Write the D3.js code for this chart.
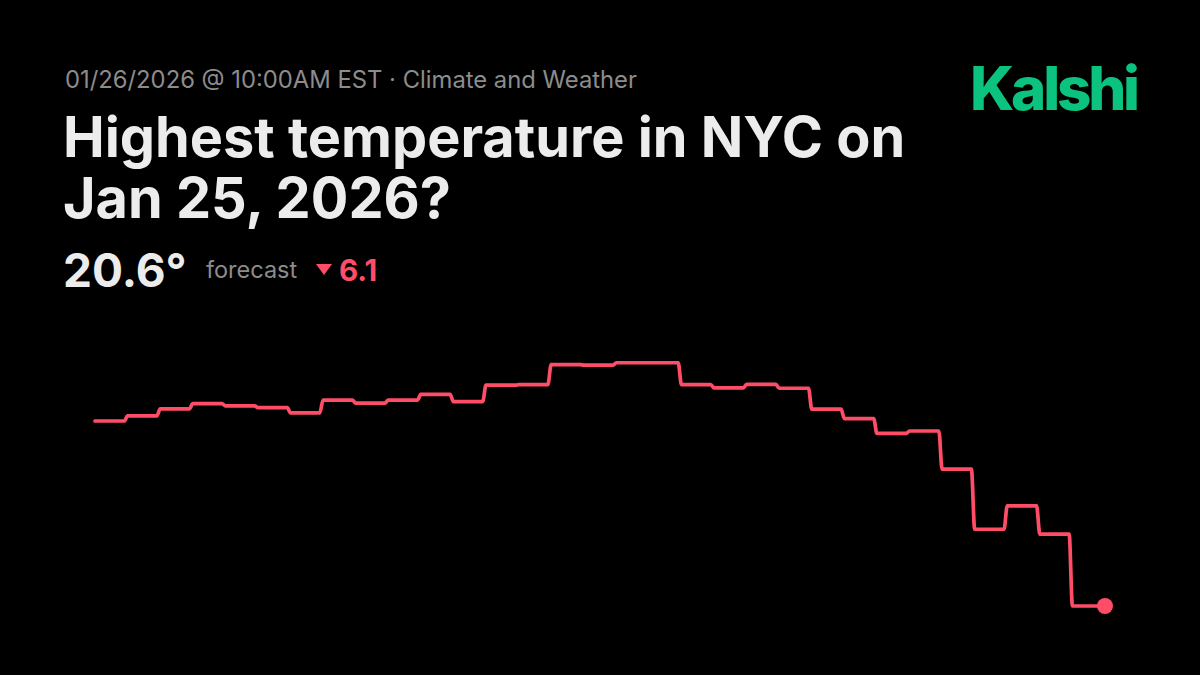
<!DOCTYPE html>
<html>
<head>
<meta charset="utf-8">
<script src="https://cdn.jsdelivr.net/npm/d3@7/dist/d3.min.js"></script>
<style>
  html, body { margin: 0; padding: 0; background: #000; }
  svg { display: block; }
</style>
</head>
<body>
<div id="chart"></div>
<script>
// forecast of the day's high, one value per update (deg F)
var forecast = [26.70, 26.87, 27.10, 27.27, 27.20, 27.14, 26.97, 27.39, 27.29, 27.39,
                27.58, 27.34, 27.88, 27.90, 28.56, 28.54, 28.62, 28.62, 27.90, 27.79,
                27.91, 27.78, 27.09, 26.78, 26.29, 26.37, 25.11, 23.13, 23.90, 22.97,
                20.60];
var currentValue = "20.6°";
var changeValue = "6.1";
var stamp = "01/26/2026 @ 10:00AM EST · Climate and Weather";
var titleLines = ["Highest temperature in NYC on", "Jan 25, 2026?"];

var W = 1200, H = 675;
var font = "Inter, 'Noto Sans', sans-serif";
var red = "#ff4d68";

var svg = d3.select("#chart").append("svg")
    .attr("width", W)
    .attr("height", H);

svg.append("rect").attr("width", W).attr("height", H).attr("fill", "#000");

// header
svg.append("text")
    .attr("x", 65).attr("y", 88)
    .attr("font-family", font).attr("font-size", 23.8)
    .attr("fill", "#8c8c8c")
    .text(stamp);

svg.append("text")
    .attr("x", 970).attr("y", 110)
    .attr("font-family", font).attr("font-size", 60).attr("font-weight", 800)
    .attr("letter-spacing", -3.2)
    .attr("fill", "#0bc37e")
    .text("Kalshi");

svg.selectAll(".title").data(titleLines).enter()
    .append("text")
    .attr("class", "title")
    .attr("x", 63)
    .attr("y", function(d, i) { return 157 + i * 61; })
    .attr("font-family", font).attr("font-size", 55.8).attr("font-weight", 700)
    .attr("fill", "#ececec")
    .text(function(d) { return d; });

svg.append("text")
    .attr("x", 63).attr("y", 287)
    .attr("font-family", font).attr("font-size", 46).attr("font-weight", 700)
    .attr("fill", "#ececec")
    .text(currentValue);

svg.append("text")
    .attr("x", 206).attr("y", 278)
    .attr("font-family", font).attr("font-size", 23.5)
    .attr("fill", "#8c8c8c")
    .text("forecast");

svg.append("path")
    .attr("d", "M316,264 L332,264 L324,275 Z")
    .attr("fill", red);

svg.append("text")
    .attr("x", 339).attr("y", 281)
    .attr("font-family", font).attr("font-size", 29.5).attr("font-weight", 700)
    .attr("fill", red)
    .text(changeValue);

// chart
var x = d3.scaleLinear().domain([0, forecast.length]).range([95, 1105]);
var y = d3.scaleLinear().domain([20.6, 26.7]).range([606, 421]);

// each value holds until the next update, with a short eased transition
var pts = [];
forecast.forEach(function(v, i) {
  pts.push([i, v]);
  pts.push([i + 0.9, v]);
});
pts.push([forecast.length, forecast[forecast.length - 1]]);

var line = d3.line()
    .x(function(d) { return x(d[0]); })
    .y(function(d) { return y(d[1]); })
    .curve(d3.curveMonotoneX);

svg.append("path")
    .datum(pts)
    .attr("d", line)
    .attr("fill", "none")
    .attr("stroke", red)
    .attr("stroke-width", 3.7)
    .attr("stroke-linejoin", "round")
    .attr("stroke-linecap", "round");

svg.append("circle")
    .attr("cx", x(forecast.length))
    .attr("cy", y(forecast[forecast.length - 1]))
    .attr("r", 8)
    .attr("fill", red);
</script>
</body>
</html>
